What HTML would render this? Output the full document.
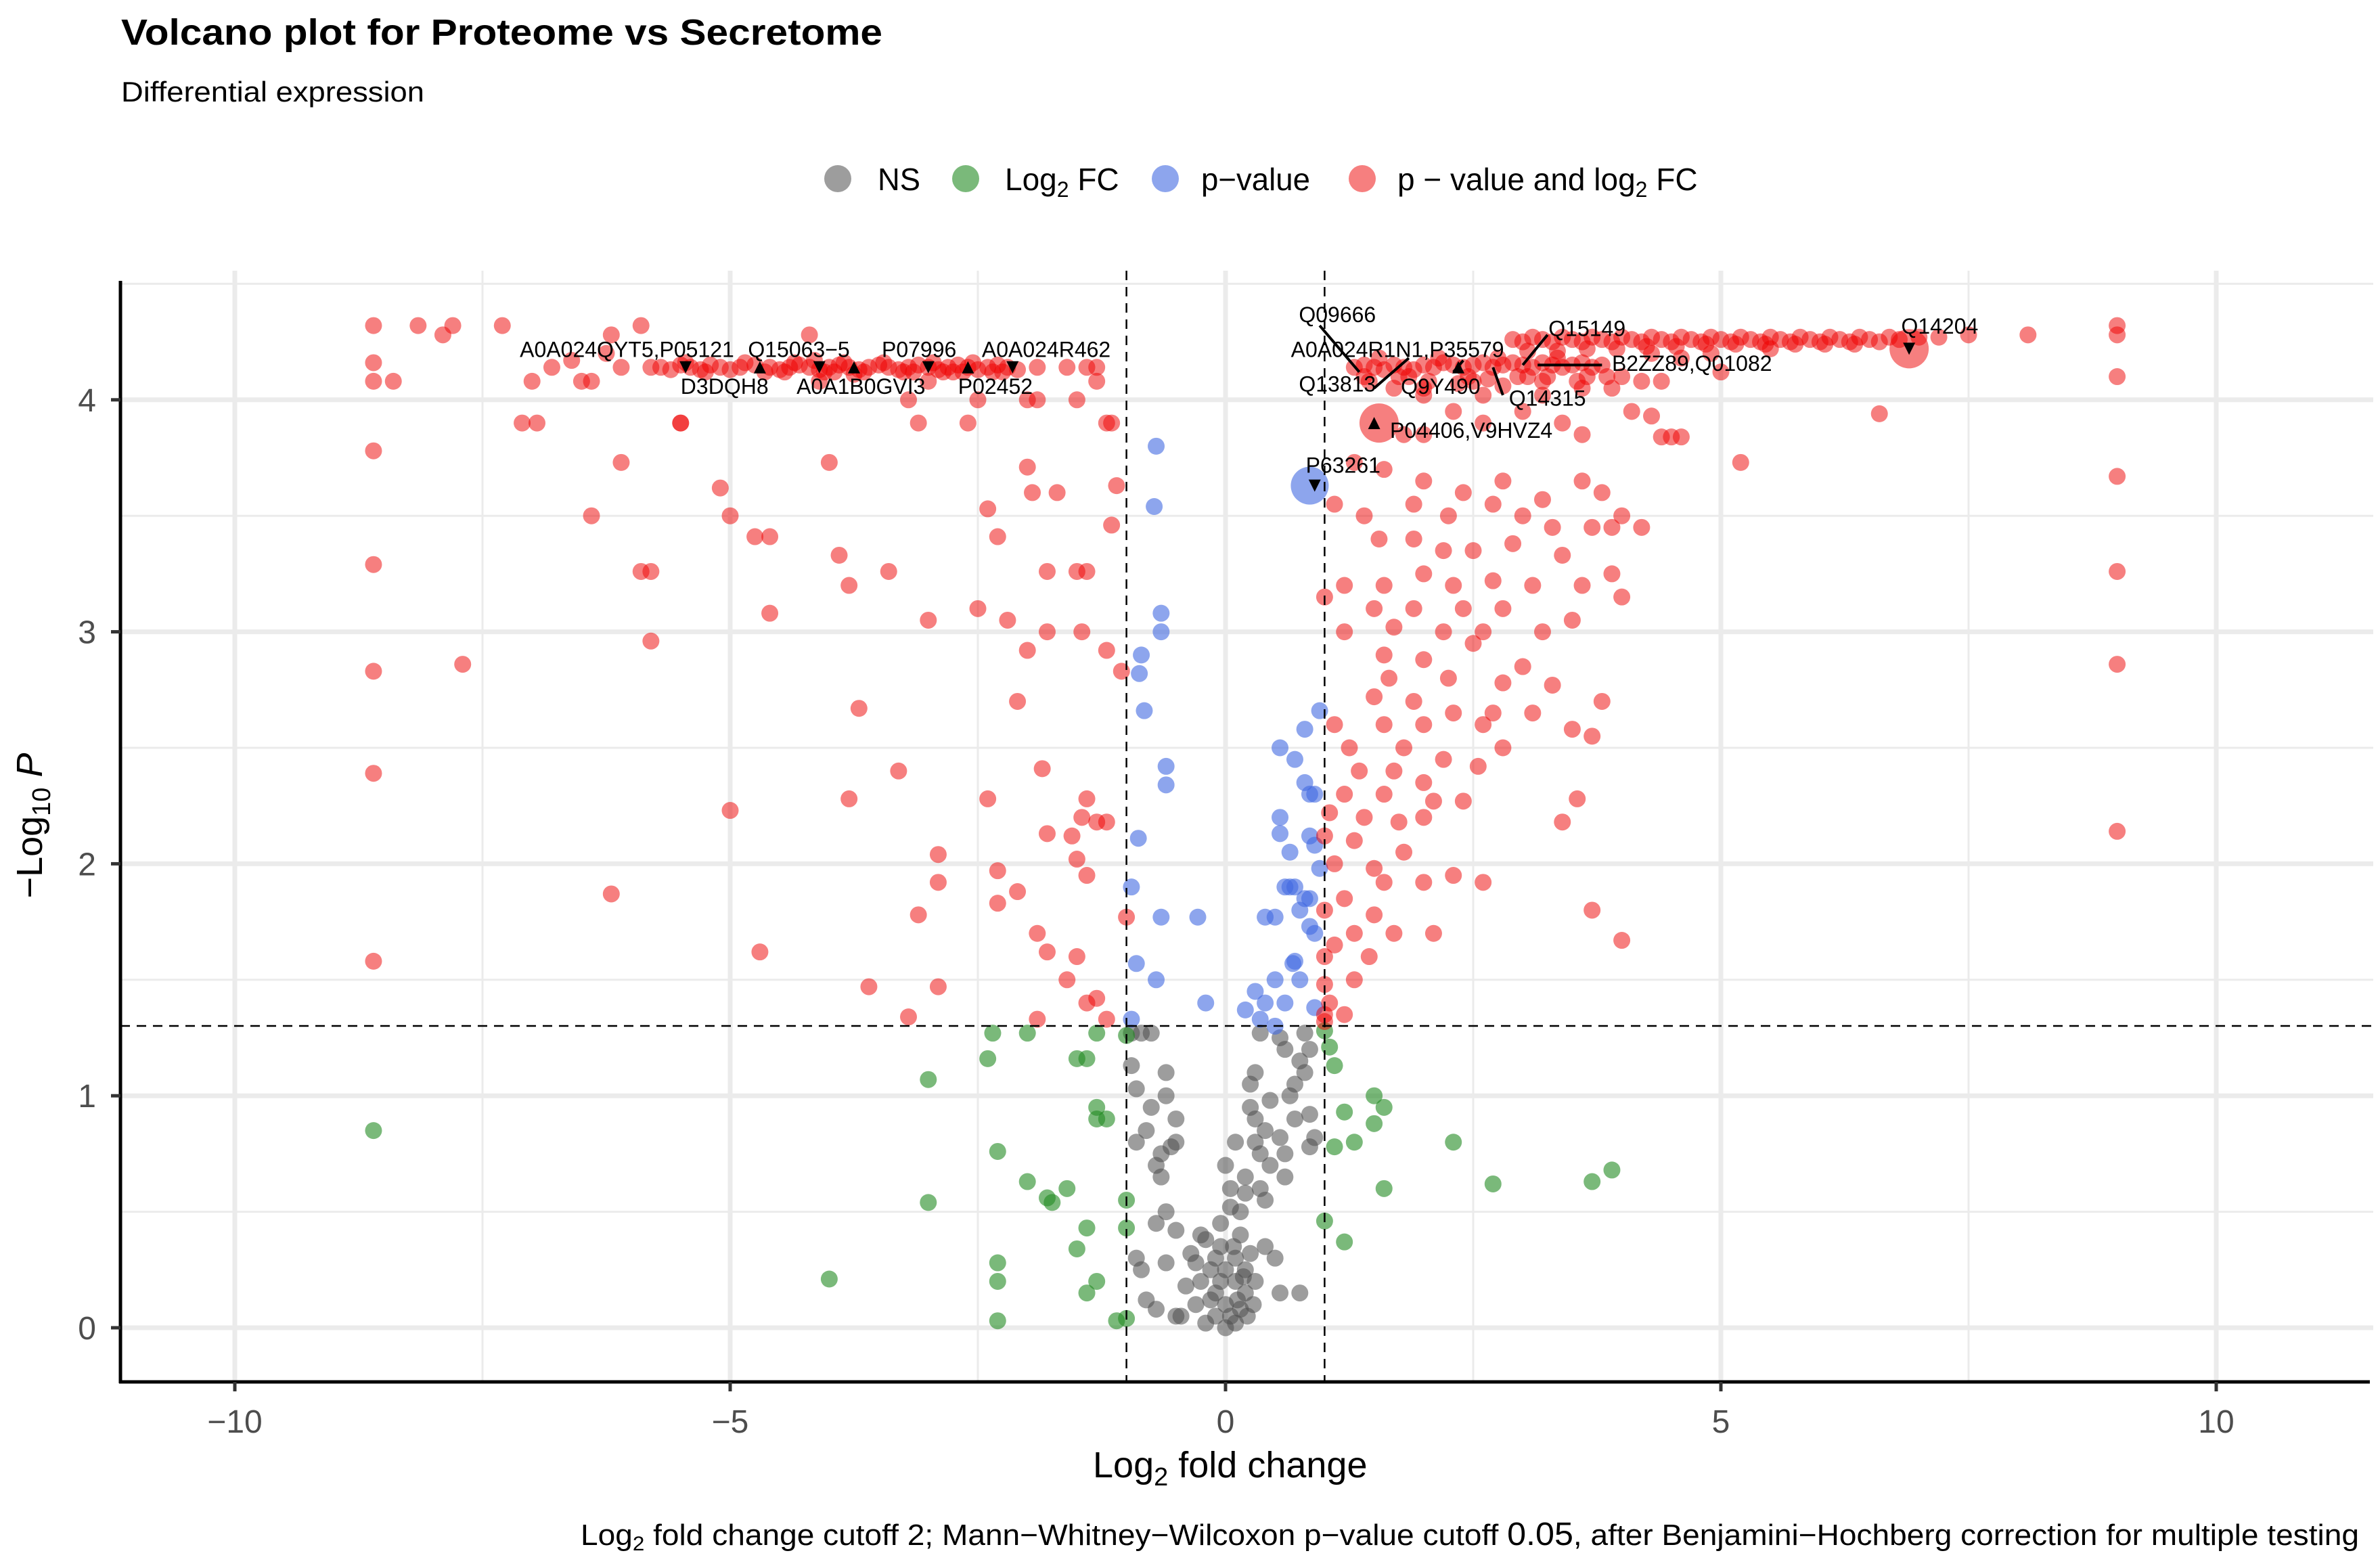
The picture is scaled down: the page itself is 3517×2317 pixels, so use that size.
<!DOCTYPE html>
<html><head><meta charset="utf-8"><title>Volcano plot</title>
<style>html,body{margin:0;padding:0;background:#fff}svg{display:block}text{font-family:"Liberation Sans Narrow","Liberation Sans",sans-serif}</style>
</head><body>
<svg id="chart" width="3517" height="2317" viewBox="0 0 3517 2317" xmlns="http://www.w3.org/2000/svg">
<text x="179" y="66" font-size="54" font-weight="bold" textLength="1125" lengthAdjust="spacingAndGlyphs">Volcano plot for Proteome vs Secretome</text>
<text x="179" y="150" font-size="42" textLength="448" lengthAdjust="spacingAndGlyphs">Differential expression</text>
<g>
<g><circle cx="1238" cy="264" r="20" fill="#4d4d4d" fill-opacity="0.55"/><text x="1297" y="281" font-size="46" textLength="63" lengthAdjust="spacingAndGlyphs">NS</text></g>
<g><circle cx="1427" cy="264" r="20" fill="#228b22" fill-opacity="0.6"/><text x="1485" y="281" font-size="46">Log<tspan font-size="32" dy="10">2</tspan><tspan dy="-10"> FC</tspan></text></g>
<g><circle cx="1722" cy="264" r="20" fill="#4169e1" fill-opacity="0.6"/><text x="1775" y="281" font-size="46" textLength="161" lengthAdjust="spacingAndGlyphs">p−value</text></g>
<g><circle cx="2013" cy="264" r="20" fill="#ee0000" fill-opacity="0.5"/><text x="2065" y="281" font-size="46">p − value and log<tspan font-size="32" dy="10">2</tspan><tspan dy="-10"> FC</tspan></text></g>
</g>
<g id="grid"></g>
<g id="points"></g>
<g id="annot"></g>
<g id="axes"></g>
<text x="1615" y="2183" font-size="54">Log<tspan font-size="38" dy="12">2</tspan><tspan dy="-12"> fold change</tspan></text>
<text transform="translate(62,1220) rotate(-90)" text-anchor="middle" font-size="54">−Log<tspan font-size="38" dy="12">10</tspan><tspan dy="-12" font-style="italic"> P</tspan></text>
<text x="858" y="2283" font-size="44" textLength="2628" lengthAdjust="spacingAndGlyphs">Log<tspan font-size="30" dy="8">2</tspan><tspan dy="-8"> fold change cutoff 2; Mann−Whitney−Wilcoxon p−value cutoff </tspan><tspan font-size="48">0.05</tspan>, after Benjamini−Hochberg correction for multiple testing</text>
</svg>
<script>
const xTicks=[-10,-5,0,5,10];
const yTicks=[0,1,2,3,4];
const xTickLabels=["−10","−5","0","5","10"];
const yTickLabels=["0","1","2","3","4"];
const fcCut=[-1,1];
const pCut=[1.301];
const nsX=[-0.95,-0.85,-0.75,0.35,0.55,0.8,0.85,-0.95,-0.6,0.3,0.8,0.75,-0.9,-0.6,-0.75,-0.5,0.25,0.45,0.7,0.85,-0.9,-0.8,-0.5,-0.55,-0.65,0.1,0.3,0.35,0.55,0.6,0.9,0.85,-0.7,-0.65,0.0,0.2,0.45,0.6,-0.6,-0.7,-0.5,-0.35,-0.2,-0.05,0.05,0.15,0.25,0.4,0.5,-0.9,-0.85,-0.6,0.55,0.75,-0.8,-0.7,-0.5,-0.3,-0.2,-0.1,0.0,0.1,0.05,0.15,-0.15,0.0,-0.25,0.1,0.2,-0.4,-0.45,0.0,-0.1,0.1,0.3,-0.05,0.15,0.2,-0.3,0.05,0.2,-0.1,0.25,0.3,0.35,0.4,-0.15,0.12,0.22,-0.05,0.08,0.18,0.28,-0.25,0.4,0.65,0.7,0.6];
const nsY=[1.27,1.27,1.27,1.27,1.25,1.27,1.2,1.13,1.1,1.1,1.1,1.15,1.03,1.0,0.95,0.9,0.95,0.98,0.9,0.92,0.8,0.85,0.8,0.78,0.75,0.8,0.8,0.75,0.82,0.75,0.82,0.78,0.7,0.65,0.7,0.65,0.7,0.65,0.5,0.45,0.42,0.32,0.38,0.45,0.52,0.5,0.32,0.35,0.3,0.3,0.25,0.28,0.15,0.15,0.12,0.08,0.05,0.1,0.02,0.15,0.1,0.2,0.05,0.08,0.25,0.25,0.2,0.3,0.25,0.18,0.05,0.0,0.05,0.02,0.2,0.35,0.4,0.15,0.28,0.6,0.58,0.3,1.05,0.9,0.6,0.55,0.12,0.12,0.05,0.2,0.35,0.22,0.1,0.4,0.85,1.0,1.05,1.2];
const fcX=[-8.6,-2.0,-1.3,-1.5,-1.4,-2.4,-3.0,-1.3,-1.3,-1.2,-2.3,-1.6,-2.0,-3.0,-1.8,-1.75,-1.4,-1.5,-1.0,-1.0,-2.3,-2.3,-4.0,-1.3,-1.4,-2.3,-1.1,1.0,1.05,1.1,1.5,1.2,1.5,1.6,1.3,1.1,1.6,2.3,2.7,3.7,3.9,1.0,1.2,-1.0,-1.0,-2.35];
const fcY=[0.85,1.27,1.27,1.16,1.16,1.16,1.07,0.95,0.9,0.9,0.76,0.6,0.63,0.54,0.56,0.54,0.43,0.34,0.55,0.43,0.28,0.2,0.21,0.2,0.15,0.03,0.03,1.28,1.21,1.13,1.0,0.93,0.88,0.95,0.8,0.78,0.6,0.8,0.62,0.63,0.68,0.46,0.37,0.04,1.26,1.27];
const pX=[-0.7,-0.72,-0.65,-0.65,-0.85,-0.87,-0.82,-0.6,-0.6,-0.88,-0.95,-0.65,-0.28,-0.9,-0.7,-0.2,-0.95,0.95,0.8,0.55,0.7,0.8,0.85,0.9,0.55,0.55,0.85,0.9,0.65,0.95,0.6,0.65,0.7,0.8,0.85,0.4,0.5,0.75,0.85,0.9,0.7,0.68,0.5,0.75,0.3,0.4,0.6,0.2,0.35,0.5,0.9];
const pY=[3.8,3.54,3.08,3.0,2.9,2.82,2.66,2.42,2.34,2.11,1.9,1.77,1.77,1.57,1.5,1.4,1.33,2.66,2.58,2.5,2.45,2.35,2.3,2.3,2.2,2.13,2.12,2.08,2.05,1.98,1.9,1.9,1.9,1.85,1.85,1.77,1.77,1.8,1.73,1.7,1.58,1.57,1.5,1.5,1.45,1.4,1.4,1.37,1.33,1.3,1.38];
const sigX=[-8.6,-8.6,-8.6,-8.6,-8.6,-8.6,-8.6,-8.6,9,9,9,9,9,9,9,
-8.15,-7.8,-7.9,-7.3,-6.2,-5.9,-8.4,-7.0,-6.8,-6.6,-6.5,-6.1,-5.8,-6.25,-6.4,-5.5,-4.2,
-5.7,-5.6,-5.5,-5.4,-5.3,-5.2,-5.1,-5.0,-4.9,-4.75,-4.6,-4.5,-4.4,-4.3,-4.2,-4.1,-4.0,-3.9,-3.8,-3.7,-3.6,-3.5,-3.4,-3.3,-3.2,-3.1,-3.0,-2.9,-2.8,-2.7,-2.6,-2.5,-2.4,-2.3,-2.2,-2.1,-4.45,-3.95,-3.25,-2.85,-2.35,-1.9,-1.6,-1.4,-1.3,-1.3,-2.0,-1.9,-1.5,-4.1,-3.0,-2.65,-3.2,-2.5,-5.5,
-5.45,-5.25,-4.85,-4.65,-4.35,-4.05,-3.85,-3.65,-3.45,-3.15,-2.95,-2.75,-2.55,-2.25,-3.75,-4.15,
-7.1,-6.95,-6.1,-6.4,-5.9,-5.8,-5.8,-5.1,-5.0,-4.75,-4.6,-4.6,-4.0,-3.9,-3.8,-3.4,-3.0,-3.1,-2.6,-2.4,-2.3,-2.0,-1.95,-1.7,-1.8,-1.5,-1.4,-1.2,-1.15,-1.1,-1.15,-1.8,-2.0,-2.5,-2.2,-1.45,-1.2,-1.05,-3.7,-2.1,-7.7,-3.3,-1.85,-1.4,-1.3,-1.45,-1.55,-2.4,-3.8,-5.0,-2.9,-1.8,-1.5,-1.2,-2.9,-2.3,-2.1,-1.4,-3.1,-2.3,-1.9,-1.8,-1.5,-1.0,-6.2,-4.7,-3.6,-2.9,-1.6,-1.4,-1.2,-1.9,-3.2,-1.3,
1.3,1.4,1.5,1.6,1.7,1.8,1.9,2.0,2.1,2.2,2.3,2.4,2.5,2.6,2.7,2.8,2.9,3.0,3.1,3.2,3.3,3.4,3.5,3.6,3.7,3.8,1.45,1.75,2.05,2.35,2.65,2.95,3.25,3.55,3.85,4.0,4.2,3.6,3.9,4.4,5.0,3.2,2.8,2.5,2.0,1.7,1.4,
1.55,1.85,2.15,2.45,2.75,3.05,3.35,3.65,2.0,2.6,3.2,
2.9,3.0,3.1,3.2,3.3,3.4,3.5,3.6,3.7,3.8,3.9,4.0,4.1,4.2,4.3,4.4,4.5,4.6,4.7,4.8,4.9,5.0,5.1,5.2,5.3,5.4,5.5,5.6,5.7,5.8,5.9,6.0,6.1,6.2,6.3,6.4,6.5,6.6,6.7,6.8,7.0,7.2,7.5,8.1,4.6,4.3,4.9,5.5,
3.05,3.35,3.65,3.95,4.25,4.55,4.85,5.15,5.45,5.75,6.05,6.35,
1.8,2.0,2.3,2.6,3.0,3.4,3.6,4.1,4.3,4.4,4.5,4.6,5.2,6.6,1.3,1.6,2.0,2.4,2.8,3.2,3.6,3.8,4.0,1.1,1.4,1.9,2.25,2.7,3.0,3.3,3.7,4.2,3.9,1.55,1.9,2.2,2.5,2.9,3.4,1.2,1.6,2.0,2.3,2.7,3.1,3.6,3.9,1.0,1.5,1.9,2.4,2.8,3.5,4.0,1.2,1.7,2.2,2.6,3.2,1.6,2.0,2.5,3.0,1.65,2.25,2.8,3.3,1.5,1.9,2.3,2.7,3.1,3.8,1.1,1.6,2.0,2.6,3.5,1.25,1.8,2.2,2.8,3.7,1.35,1.7,2.0,2.55,1.2,1.6,2.1,2.4,3.55,1.05,1.4,1.75,2.0,3.4,1.0,1.3,1.8,1.1,1.5,2.0,2.3,2.6,1.6,1.2,1.0,1.5,3.7,1.3,1.1,1.7,2.1,4.0,1.0,1.45,1.0,1.3,1.05,1.0,1.2,1.0];
const sigY=[4.32,4.16,4.08,3.78,3.29,2.83,2.39,1.58,4.32,4.28,4.1,3.67,3.26,2.86,2.14,
4.32,4.32,4.28,4.32,4.28,4.32,4.08,4.08,4.14,4.17,4.08,4.14,4.14,4.2,4.08,3.9,4.28,
4.14,4.13,4.15,4.14,4.13,4.15,4.14,4.13,4.14,4.15,4.14,4.13,4.14,4.15,4.14,4.13,4.14,4.15,4.14,4.13,4.14,4.15,4.14,4.13,4.14,4.15,4.14,4.13,4.14,4.15,4.14,4.13,4.14,4.15,4.14,4.13,4.12,4.12,4.12,4.12,4.12,4.14,4.14,4.14,4.14,4.08,4.0,4.0,4.0,4.08,4.08,4.12,4.0,4.0,3.9,
4.16,4.12,4.16,4.12,4.16,4.12,4.16,4.12,4.16,4.12,4.16,4.12,4.16,4.12,4.11,4.17,
3.9,3.9,3.73,3.5,3.26,3.26,2.96,3.62,3.5,3.41,3.41,3.08,3.73,3.33,3.2,3.26,3.05,3.9,3.9,3.53,3.41,3.71,3.6,3.6,3.26,3.26,3.26,3.9,3.9,3.63,3.46,3.0,2.92,3.1,3.05,3.0,2.92,2.83,2.67,2.7,2.86,2.4,2.41,2.28,2.18,2.2,2.12,2.28,2.28,2.23,2.04,2.13,2.02,2.18,1.92,1.97,1.88,1.95,1.78,1.83,1.7,1.62,1.6,1.77,1.87,1.62,1.47,1.47,1.5,1.4,1.33,1.33,1.34,1.42,
4.14,4.15,4.14,4.13,4.15,4.14,4.13,4.15,4.14,4.16,4.15,4.14,4.15,4.16,4.14,4.15,4.16,4.15,4.14,4.16,4.15,4.14,4.15,4.16,4.14,4.15,4.08,4.1,4.08,4.07,4.09,4.1,4.1,4.08,4.1,4.1,4.08,4.05,4.05,4.08,4.12,4.08,4.06,4.08,4.05,4.05,4.1,
4.18,4.1,4.18,4.1,4.18,4.1,4.18,4.1,4.02,4.02,4.02,
4.26,4.25,4.27,4.26,4.25,4.27,4.26,4.25,4.27,4.26,4.25,4.27,4.26,4.25,4.27,4.26,4.25,4.27,4.26,4.25,4.27,4.26,4.25,4.27,4.26,4.25,4.27,4.26,4.25,4.27,4.26,4.25,4.27,4.26,4.25,4.27,4.26,4.25,4.27,4.26,4.27,4.27,4.28,4.28,4.18,4.2,4.2,4.22,
4.21,4.21,4.22,4.22,4.23,4.23,4.24,4.24,4.24,4.24,4.24,4.24,
3.85,3.85,3.95,3.9,3.95,3.9,3.85,3.95,3.93,3.84,3.84,3.84,3.73,3.94,3.73,3.7,3.65,3.6,3.65,3.57,3.65,3.6,3.5,3.55,3.5,3.55,3.5,3.55,3.5,3.45,3.45,3.45,3.45,3.4,3.4,3.35,3.35,3.38,3.33,3.2,3.2,3.25,3.2,3.22,3.2,3.2,3.25,3.15,3.1,3.1,3.1,3.1,3.05,3.15,3.0,3.02,3.0,3.0,3.0,2.9,2.88,2.95,2.85,2.8,2.8,2.78,2.77,2.72,2.7,2.65,2.65,2.65,2.7,2.6,2.6,2.6,2.6,2.58,2.5,2.5,2.45,2.5,2.55,2.4,2.4,2.35,2.42,2.3,2.3,2.27,2.27,2.28,2.22,2.2,2.18,2.2,2.18,2.12,2.1,2.05,2.0,1.98,1.92,1.95,1.92,1.92,1.85,1.8,1.78,1.8,1.7,1.65,1.7,1.7,1.67,1.6,1.6,1.48,1.5,1.4,1.35,1.35,1.32];
const bigX=[6.9,1.55];
const bigY=[4.22,3.9];
const bigBlueX=[0.85];
const bigBlueY=[3.63];
const labelText=["A0A024QYT5,P05121","Q15063−5","P07996","A0A024R462","D3DQH8","A0A1B0GVI3","P02452","Q09666","A0A024R1N1,P35579","Q15149","B2ZZ89,Q01082","Q13813","Q9Y490","Q14315","P04406,V9HVZ4","P63261","Q14204"];
const labelX=[-4.96,-4.82,-3.47,-2.46,-5.5,-4.33,-2.7,0.74,0.66,3.26,3.9,0.74,1.77,2.86,1.66,0.81,6.82];
const labelY=[4.21,4.21,4.21,4.21,4.05,4.05,4.05,4.36,4.21,4.3,4.15,4.06,4.05,4.0,3.86,3.71,4.31];
const labelAnchor=["end","start","start","start","start","start","start","start","start","start","start","start","start","start","start","start","start"];
const markX=[-5.45,-4.7,-4.1,-3.75,-3.0,-2.6,-2.15,1.5,2.35,6.9,0.9];
const markY=[4.14,4.14,4.14,4.14,4.14,4.14,4.14,3.9,4.14,4.22,3.63];
const markDown=[1,0,1,0,1,0,1,0,0,1,1];

const NS='http://www.w3.org/2000/svg';
const x0=1811,ux=146.4,y0=1962,uy=342.8;
const L=178,R=3507,T=400,B=2042;
function X(v){return x0+v*ux;}
function Y(v){return y0-v*uy;}
function mk(tag,attrs,parent){const e=document.createElementNS(NS,tag);for(const k in attrs)e.setAttribute(k,attrs[k]);parent.appendChild(e);return e;}
const grid=document.getElementById('grid'),pts=document.getElementById('points'),ann=document.getElementById('annot'),axes=document.getElementById('axes');
[-7.5,-2.5,2.5,7.5].forEach(v=>{const l=mk('line',{x1:X(v),x2:X(v),y1:T,y2:B,stroke:'#ebebeb','stroke-width':3},grid);});
[0.5,1.5,2.5,3.5,4.5].forEach(v=>{const l=mk('line',{x1:L,x2:R,y1:Y(v),y2:Y(v),stroke:'#ebebeb','stroke-width':3},grid);});
xTicks.forEach(v=>{const l=mk('line',{x1:X(v),x2:X(v),y1:T,y2:B,stroke:'#ebebeb','stroke-width':7},grid);});
yTicks.forEach(v=>{const l=mk('line',{x1:L,x2:R,y1:Y(v),y2:Y(v),stroke:'#ebebeb','stroke-width':7},grid);});
function drawSet(xs,ys,color,op,r,name){for(let i=0;i<xs.length;i++){const c=mk('circle',{cx:X(xs[i]),cy:Y(ys[i]),r:r,fill:color,'fill-opacity':op},pts);}}
drawSet(nsX,nsY,'#4d4d4d',0.55,12.5,'point-ns');
drawSet(fcX,fcY,'#228b22',0.6,12.5,'point-log2fc');
drawSet(pX,pY,'#4169e1',0.6,12.5,'point-pvalue');
drawSet(sigX,sigY,'#ee0000',0.5,12.5,'point-pvalue-and-log2fc');
drawSet(bigX,bigY,'#ee0000',0.5,29,'point-large-significant');
drawSet(bigBlueX,bigBlueY,'#4169e1',0.6,28,'point-large-pvalue');
fcCut.forEach(v=>{const l=mk('line',{x1:X(v),x2:X(v),y1:T,y2:B,stroke:'#000','stroke-width':2.5,'stroke-dasharray':'14 10'},ann);});
pCut.forEach(v=>{const l=mk('line',{x1:L,x2:R,y1:Y(v),y2:Y(v),stroke:'#000','stroke-width':2.5,'stroke-dasharray':'14 10'},ann);});
for(let i=0;i<markX.length;i++){const cx=X(markX[i]),cy=Y(markY[i]);const d=markDown[i]?`M${cx-9},${cy-9}L${cx+9},${cy-9}L${cx},${cy+9}Z`:`M${cx-9},${cy+9}L${cx+9},${cy+9}L${cx},${cy-9}Z`;const p=mk('path',{d:d,fill:'#000'},ann);}
[[0.95,4.32,1.35,4.12],[1.5,4.05,1.85,4.18],[3.0,4.15,3.25,4.28],[3.15,4.15,3.8,4.15],[2.7,4.14,2.8,4.02],[2.3,4.12,2.4,4.17]].forEach(a=>{const l=mk('line',{x1:X(a[0]),y1:Y(a[1]),x2:X(a[2]),y2:Y(a[3]),stroke:'#000','stroke-width':4},ann);});
for(let i=0;i<labelText.length;i++){const t=mk('text',{x:X(labelX[i]),y:Y(labelY[i]),'font-size':32,'text-anchor':labelAnchor[i],'dominant-baseline':'middle',fill:'#000'},ann);t.textContent=labelText[i];}
let a=mk('line',{x1:L,x2:L,y1:415,y2:B+2,stroke:'#000','stroke-width':5},axes);
a=mk('line',{x1:L-2,x2:R-5,y1:B,y2:B,stroke:'#000','stroke-width':5},axes);
xTicks.forEach((v,i)=>{const t=mk('line',{x1:X(v),x2:X(v),y1:B,y2:B+14,stroke:'#333','stroke-width':5},axes);
const tx=mk('text',{x:X(v),y:2117,'font-size':48,'text-anchor':'middle',fill:'#4d4d4d'},axes);tx.textContent=xTickLabels[i];});
yTicks.forEach((v,i)=>{const t=mk('line',{x1:L-14,x2:L,y1:Y(v),y2:Y(v),stroke:'#333','stroke-width':5},axes);
const tx=mk('text',{x:142,y:Y(v)+17,'font-size':48,'text-anchor':'end',fill:'#4d4d4d'},axes);tx.textContent=yTickLabels[i];});
</script>
</body></html>
